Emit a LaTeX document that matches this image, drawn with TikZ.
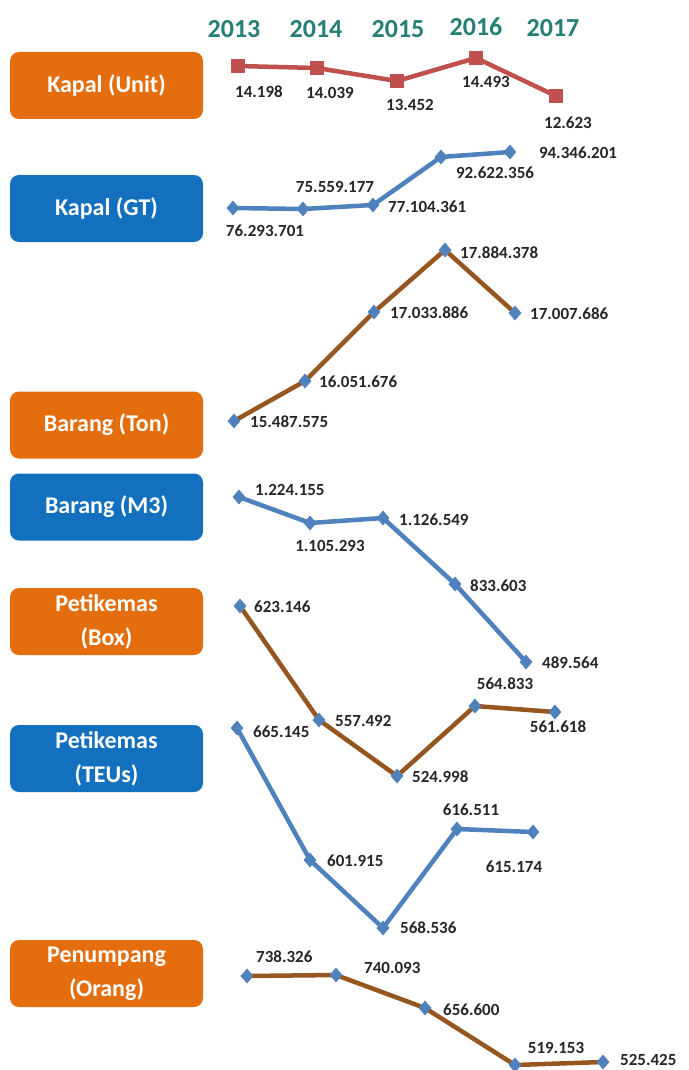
\documentclass[tikz,border=0pt]{standalone}
\usepackage{fontspec}
\setmainfont{Carlito}
\usetikzlibrary{shapes.geometric}

\definecolor{boxorange}{RGB}{228,110,14}
\definecolor{boxblue}{RGB}{18,112,190}
\definecolor{yearteal}{RGB}{36,128,118}
\definecolor{linered}{RGB}{192,80,77}
\definecolor{lineblue}{RGB}{79,129,189}
\definecolor{linebrown}{RGB}{150,86,32}
\definecolor{labelgray}{RGB}{38,38,38}

\tikzset{
  catbox/.style={draw=none, fill=#1, rounded corners=9pt, minimum width=193pt,
    minimum height=67pt, text=white, align=center,
    font=\fontsize{24}{34}\selectfont\bfseries, inner sep=0pt},
  yearlbl/.style={text=yearteal, font=\fontsize{26}{30}\selectfont\bfseries},
  val/.style={text=labelgray, font=\fontsize{17}{20}\selectfont\bfseries, inner sep=0pt},
  sqmark/.style={shape=rectangle, fill=linered, minimum size=14pt, inner sep=0pt},
  dmmark/.style={shape=diamond, fill=lineblue, minimum width=13pt, minimum height=15pt, inner sep=0pt},
  redline/.style={draw=linered, line width=4.5pt, line join=round},
  blueline/.style={draw=lineblue, line width=4.5pt, line join=round},
  brownline/.style={draw=linebrown, line width=4.5pt, line join=round},
}

\begin{document}
\begin{tikzpicture}[x=1pt,y=-1pt]
\useasboundingbox (0,0) rectangle (688,1070);
\fill[white] (0,0) rectangle (688,1070);

% category boxes
\node[catbox=boxorange] (bunit) at (106.5,85.5) {Kapal (Unit)};
\node[catbox=boxblue]   (bgt)   at (106.5,208.5) {Kapal (GT)};
\node[catbox=boxorange] (bton)  at (106.5,425) {Barang (Ton)};
\node[catbox=boxblue]   (bm3)   at (106.5,507) {Barang (M3)};
\node[catbox=boxorange] (bbox)  at (106.5,621.5) {Petikemas\\(Box)};
\node[catbox=boxblue]   (bteu)  at (106.5,758.5) {Petikemas\\(TEUs)};
\node[catbox=boxorange] (bpen)  at (106.5,973.5) {Penumpang\\(Orang)};

% year headings
\node[yearlbl] (y13) at (234,29) {2013};
\node[yearlbl] (y14) at (316,29) {2014};
\node[yearlbl] (y15) at (398,29) {2015};
\node[yearlbl] (y16) at (476,27) {2016};
\node[yearlbl] (y17) at (553,28) {2017};

% data points
\coordinate (u1) at (238,66);  \coordinate (u2) at (317,68);  \coordinate (u3) at (397,81);
\coordinate (u4) at (476,58);  \coordinate (u5) at (556,96);
\coordinate (g1) at (233,208); \coordinate (g2) at (303,209); \coordinate (g3) at (373,205);
\coordinate (g4) at (441,157); \coordinate (g5) at (510,152);
\coordinate (t1) at (234,421); \coordinate (t2) at (305,381); \coordinate (t3) at (374,312);
\coordinate (t4) at (445,250); \coordinate (t5) at (515,313);
\coordinate (m1) at (239,497); \coordinate (m2) at (310,523); \coordinate (m3) at (383,518);
\coordinate (m4) at (455,584); \coordinate (m5) at (526,662);
\coordinate (x1) at (240,606); \coordinate (x2) at (319,720); \coordinate (x3) at (397,776);
\coordinate (x4) at (475,706); \coordinate (x5) at (555,712);
\coordinate (e1) at (237,728); \coordinate (e2) at (310,860); \coordinate (e3) at (383,928);
\coordinate (e4) at (457,829); \coordinate (e5) at (533,832);
\coordinate (p1) at (247,976); \coordinate (p2) at (336,975); \coordinate (p3) at (425,1008);
\coordinate (p4) at (515,1065); \coordinate (p5) at (603,1062);

% series lines
\draw[redline]   (u1) -- (u2) -- (u3) -- (u4) -- (u5);
\draw[blueline]  (g1) -- (g2) -- (g3) -- (g4) -- (g5);
\draw[brownline] (t1) -- (t2) -- (t3) -- (t4) -- (t5);
\draw[blueline]  (m1) -- (m2) -- (m3) -- (m4) -- (m5);
\draw[brownline] (x1) -- (x2) -- (x3) -- (x4) -- (x5);
\draw[blueline]  (e1) -- (e2) -- (e3) -- (e4) -- (e5);
\draw[brownline] (p1) -- (p2) -- (p3) -- (p4) -- (p5);

% markers
\foreach \p in {u1,u2,u3,u4,u5} \node[sqmark] at (\p) {};
\foreach \p in {g1,g2,g3,g4,g5,t1,t2,t3,t4,t5,m1,m2,m3,m4,m5,x1,x2,x3,x4,x5,e1,e2,e3,e4,e5,p1,p2,p3,p4,p5}
  \node[dmmark] at (\p) {};

% value labels
\node[val] (lu1) at (259,92) {14.198};
\node[val] (lu2) at (330,93) {14.039};
\node[val] (lu3) at (410,105) {13.452};
\node[val] (lu4) at (486,82) {14.493};
\node[val] (lu5) at (568,123) {12.623};

\node[val] (lg1) at (265,231) {76.293.701};
\node[val] (lg2) at (335,187) {75.559.177};
\node[val,anchor=west] (lg3) at (388,207) {77.104.361};
\node[val] (lg4) at (495,173) {92.622.356};
\node[val] (lg5) at (578,153) {94.346.201};

\node[val,anchor=west] (lt1) at (250,422) {15.487.575};
\node[val,anchor=west] (lt2) at (319,382) {16.051.676};
\node[val,anchor=west] (lt3) at (390,313) {17.033.886};
\node[val,anchor=west] (lt4) at (460,253) {17.884.378};
\node[val,anchor=west] (lt5) at (530,314) {17.007.686};

\node[val,anchor=west] (lm1) at (255,490) {1.224.155};
\node[val] (lm2) at (330,546) {1.105.293};
\node[val,anchor=west] (lm3) at (399,520) {1.126.549};
\node[val,anchor=west] (lm4) at (470,586) {833.603};
\node[val,anchor=west] (lm5) at (542,663) {489.564};

\node[val,anchor=west] (lx1) at (254,607) {623.146};
\node[val,anchor=west] (lx2) at (335,721) {557.492};
\node[val,anchor=west] (lx3) at (412,777) {524.998};
\node[val] (lx4) at (505,684) {564.833};
\node[val] (lx5) at (558,727) {561.618};

\node[val,anchor=west] (le1) at (253,732) {665.145};
\node[val,anchor=west] (le2) at (327,861) {601.915};
\node[val,anchor=west] (le3) at (400,928) {568.536};
\node[val] (le4) at (471,810) {616.511};
\node[val] (le5) at (514,867) {615.174};

\node[val,anchor=west] (lp1) at (256,957) {738.326};
\node[val,anchor=west] (lp2) at (364,968) {740.093};
\node[val,anchor=west] (lp3) at (443,1010) {656.600};
\node[val] (lp4) at (556,1048) {519.153};
\node[val,anchor=west] (lp5) at (620,1060) {525.425};
\end{tikzpicture}
\end{document}
